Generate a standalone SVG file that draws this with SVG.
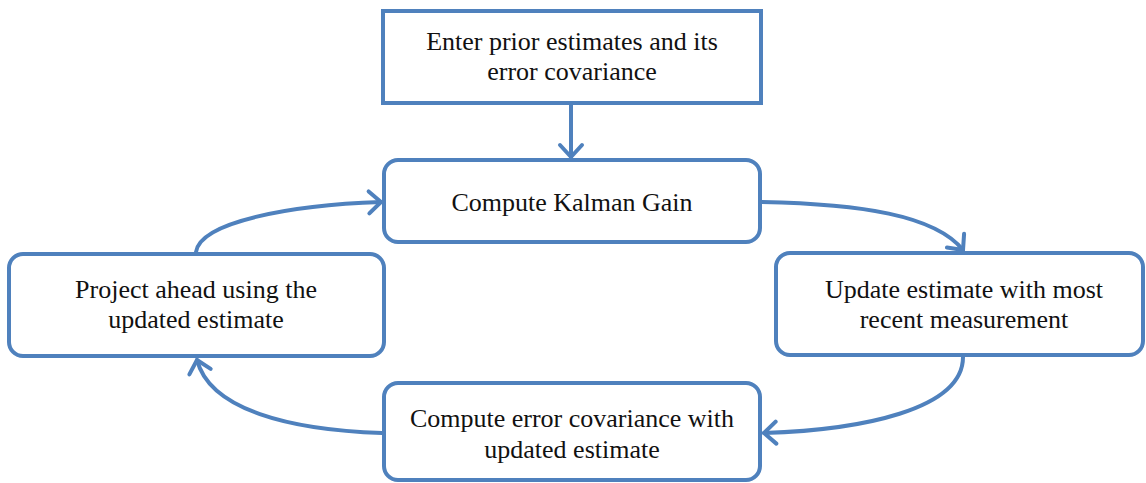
<svg xmlns="http://www.w3.org/2000/svg" width="1146" height="483" viewBox="0 0 1146 483">
  <style>
    .box { fill: #ffffff; stroke: #4f81bd; stroke-width: 4; }
    .link { fill: none; stroke: #4f81bd; stroke-width: 4; stroke-linecap: round; }
    .label { font-family: "Liberation Serif", "Times New Roman", serif; font-size: 26px; fill: #111111; text-anchor: middle; }
  </style>
  <defs>
    <marker id="chevron" markerUnits="userSpaceOnUse" markerWidth="30" markerHeight="30" refX="15" refY="15" orient="auto" overflow="visible">
      <path d="M 3 4 L 15 15 L 3 26" fill="none" stroke="#4f81bd" stroke-width="4" stroke-linecap="round" stroke-linejoin="round"/>
    </marker>
  </defs>
  <rect width="1146" height="483" fill="#ffffff"/>

  <g id="connectors">
    <path class="link" d="M 571 104 L 571 157" marker-end="url(#chevron)"/>
    <path class="link" d="M 762 202 C 860 204, 935 215, 963 250" marker-end="url(#chevron)"/>
    <path class="link" d="M 963 357 C 963 410, 860 430, 764 433" marker-end="url(#chevron)"/>
    <path class="link" d="M 382 433 C 290 430, 210 410, 197 360" marker-end="url(#chevron)"/>
    <path class="link" d="M 196 252 C 200 222, 290 205, 381 202" marker-end="url(#chevron)"/>
  </g>

  <g id="node-prior">
    <rect class="box" x="383" y="11" width="378" height="92"/>
    <text class="label" x="572" y="50">Enter prior estimates and its</text>
    <text class="label" x="572" y="80">error covariance</text>
  </g>

  <g id="node-gain">
    <rect class="box" x="384" y="160" width="376" height="82" rx="14"/>
    <text class="label" x="572" y="211">Compute Kalman Gain</text>
  </g>

  <g id="node-update">
    <rect class="box" x="776" y="253" width="367" height="102" rx="14"/>
    <text class="label" x="964" y="298">Update estimate with most</text>
    <text class="label" x="964" y="328">recent measurement</text>
  </g>

  <g id="node-covariance">
    <rect class="box" x="384" y="383" width="376" height="97" rx="14"/>
    <text class="label" x="572" y="427">Compute error covariance with</text>
    <text class="label" x="572" y="458">updated estimate</text>
  </g>

  <g id="node-project">
    <rect class="box" x="9" y="254" width="375" height="102" rx="14"/>
    <text class="label" x="196" y="298">Project ahead using the</text>
    <text class="label" x="196" y="328">updated estimate</text>
  </g>
</svg>
